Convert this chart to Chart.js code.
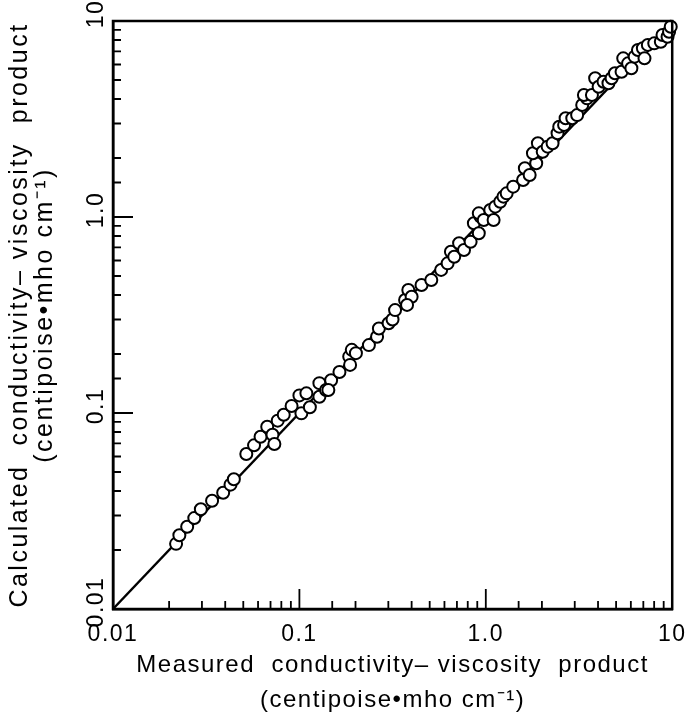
<!DOCTYPE html>
<html>
<head>
<meta charset="utf-8">
<script src="https://cdn.jsdelivr.net/npm/chart.js@4/dist/chart.umd.min.js"></script>
<style>
  html, body { margin: 0; padding: 0; background: #fff; }
  #wrap { width: 697px; height: 715px; }
</style>
</head>
<body>
<div id="wrap"><canvas id="c" width="697" height="715"></canvas></div>
<script>
// ---- data ----
const measured = [
  0.0218, 0.0227, 0.0250, 0.0273, 0.0296, 0.0340, 0.0390, 0.0427, 0.0445, 0.0519,
  0.0571, 0.0619, 0.0672, 0.0717, 0.0734, 0.0765, 0.0824, 0.0908, 0.100, 0.109,
  0.1025, 0.1138, 0.128, 0.128, 0.139, 0.148, 0.164, 0.185, 0.191, 0.201,
  0.187, 0.236, 0.261, 0.267, 0.301, 0.316, 0.326, 0.369, 0.384, 0.400,
  0.452, 0.510, 0.576, 0.624, 0.650, 0.677, 0.719, 0.764, 0.829, 0.863,
  0.917, 0.936, 0.917, 0.975, 1.057, 1.124, 1.101, 1.195, 1.244, 1.294,
  1.403, 1.585, 1.62, 1.719, 1.864, 1.79, 1.903, 2.02, 2.147, 2.281,
  2.426, 2.477, 2.63, 2.68, 2.91, 3.09, 3.29, 3.49, 3.36, 3.71,
  3.86, 4.03, 4.28, 4.55, 4.73, 4.93, 5.35, 5.46, 5.80, 6.04,
  6.29, 6.55, 6.96, 7.10, 7.40, 8.01, 8.69, 8.87, 9.44, 9.62, 9.82,
  0.378, 0.143
];
const calculated = [
  0.0215, 0.0238, 0.0263, 0.0291, 0.0323, 0.0357, 0.0392, 0.0431, 0.0459, 0.0618,
  0.0684, 0.0757, 0.0851, 0.0775, 0.0695, 0.0914, 0.098, 0.1086, 0.123, 0.126,
  0.0996, 0.107, 0.142, 0.121, 0.131, 0.147, 0.162, 0.194, 0.210, 0.202,
  0.176, 0.222, 0.245, 0.270, 0.287, 0.300, 0.335, 0.377, 0.424, 0.392,
  0.450, 0.477, 0.537, 0.580, 0.665, 0.627, 0.734, 0.679, 0.748, 0.929,
  0.826, 1.004, 1.044, 0.966, 1.086, 1.129, 0.966, 1.197, 1.27, 1.32,
  1.428, 1.545, 1.773, 1.638, 1.879, 2.114, 2.378, 2.154, 2.285, 2.378,
  2.673, 2.89, 2.95, 3.19, 3.19, 3.31, 3.73, 4.03, 4.19, 4.19,
  5.10, 4.62, 4.90, 4.81, 5.10, 5.41, 5.51, 6.45, 6.08, 5.74,
  6.58, 7.11, 7.26, 6.45, 7.55, 7.69, 7.84, 8.49, 8.31, 8.82, 9.35,
  0.356, 0.131
];
const lineX = [0.01, 10];
const lineY = [0.01, 10];
const axisMin = 0.01;
const axisMax = 10;
const majorLabels = { "0.01": "0.01", "0.1": "0.1", "1": "1.0", "10": "10" };
const xTitle = ["Measured  conductivity– viscosity  product", "(centipoise•mho cm⁻¹)"];
const yTitle = ["Calculated  conductivity– viscosity  product", "(centipoise•mho cm⁻¹)"];

// ---- build ----
const points = measured.map((x, i) => ({ x: x, y: calculated[i] }));
const linePts = lineX.map((x, i) => ({ x: x, y: lineY[i] }));

function labelFor(v) {
  const lg = Math.log10(v);
  if (Math.abs(lg - Math.round(lg)) > 1e-6) return '';
  const key = String(Math.pow(10, Math.round(lg)).toPrecision(1) * 1);
  return majorLabels[key] !== undefined ? majorLabels[key] : '';
}

const FONT = "'Liberation Sans', Arial, sans-serif";

const spacingPlugin = {
  id: 'spacing',
  beforeDraw(chart) {
    chart.ctx.letterSpacing = '1.5px';
    const s = chart.scales.y;
    if (s && !s._wideTitle) {
      const orig = s.drawTitle;
      s.drawTitle = function () {
        const c = this.ctx;
        const prev = c.letterSpacing;
        c.letterSpacing = '2.5px';
        orig.call(this);
        c.letterSpacing = prev;
      };
      s._wideTitle = true;
    }
  }
};

const framePlugin = {
  id: 'frame',
  afterDraw(chart) {
    const ctx = chart.ctx;
    const a = chart.chartArea;
    const xs = chart.scales.x, ys = chart.scales.y;
    ctx.save();
    ctx.strokeStyle = '#000';
    ctx.lineWidth = 2.5;
    ctx.strokeRect(a.left, a.top, a.right - a.left, a.bottom - a.top);
    ctx.lineWidth = 1.8;
    ctx.beginPath();
    xs.ticks.forEach(t => {
      const lg = Math.log10(t.value);
      const major = Math.abs(lg - Math.round(lg)) < 1e-6;
      const px = xs.getPixelForValue(t.value);
      const len = major ? 20 : 8;
      if (px <= a.left + 1 || px >= a.right - 1) return;
      ctx.moveTo(px, a.bottom);
      ctx.lineTo(px, a.bottom - len);
    });
    ys.ticks.forEach(t => {
      const lg = Math.log10(t.value);
      const major = Math.abs(lg - Math.round(lg)) < 1e-6;
      const py = ys.getPixelForValue(t.value);
      const len = major ? 20 : 8;
      if (py <= a.top + 1 || py >= a.bottom - 1) return;
      ctx.moveTo(a.left, py);
      ctx.lineTo(a.left + len, py);
    });
    ctx.stroke();
    ctx.restore();
  }
};

new Chart(document.getElementById('c'), {
  type: 'scatter',
  data: {
    datasets: [
      {
        type: 'line',
        data: linePts,
        borderColor: '#000',
        borderWidth: 2.5,
        pointRadius: 0,
        fill: false,
        order: 2
      },
      {
        data: points,
        pointStyle: 'circle',
        pointRadius: 6,
        borderWidth: 2,
        borderColor: '#000',
        backgroundColor: 'rgba(255,255,255,1)',
        order: 1
      }
    ]
  },
  options: {
    responsive: false,
    animation: false,
    devicePixelRatio: 1,
    clip: false,
    layout: { padding: { top: 21, right: 15, left: 0, bottom: 0 } },
    plugins: { legend: { display: false }, tooltip: { enabled: false } },
    scales: {
      x: {
        type: 'logarithmic',
        min: axisMin, max: axisMax,
        grid: { display: true, drawOnChartArea: false, drawTicks: false },
        border: { display: true, color: '#000', width: 2.5 },
        ticks: {
          autoSkip: false, maxRotation: 0, minRotation: 0, padding: 12,
          color: '#000', font: { family: FONT, size: 23 },
          callback: (v) => labelFor(v)
        },
        title: {
          display: true, text: xTitle, color: '#000',
          font: { family: FONT, size: 24, lineHeight: '35px' },
          padding: { top: 0, bottom: -3 }
        },
        afterFit: (s) => { s.height = 106; }
      },
      y: {
        type: 'logarithmic',
        min: axisMin, max: axisMax,
        grid: { display: true, drawOnChartArea: false, drawTicks: false },
        border: { display: true, color: '#000', width: 2.5 },
        ticks: {
          autoSkip: false, minRotation: 90, maxRotation: 90, crossAlign: 'center', padding: -6,
          labelOffset: -7,
          color: '#000', font: { family: FONT, size: 23 },
          callback: (v) => labelFor(v)
        },
        title: {
          display: true, text: yTitle, color: '#000',
          font: { family: FONT, size: 25, lineHeight: '25px' },
          padding: { top: 8, bottom: 0 }
        },
        afterFit: (s) => { s.width = 113; }
      }
    }
  },
  plugins: [spacingPlugin, framePlugin]
});
</script>
</body>
</html>
